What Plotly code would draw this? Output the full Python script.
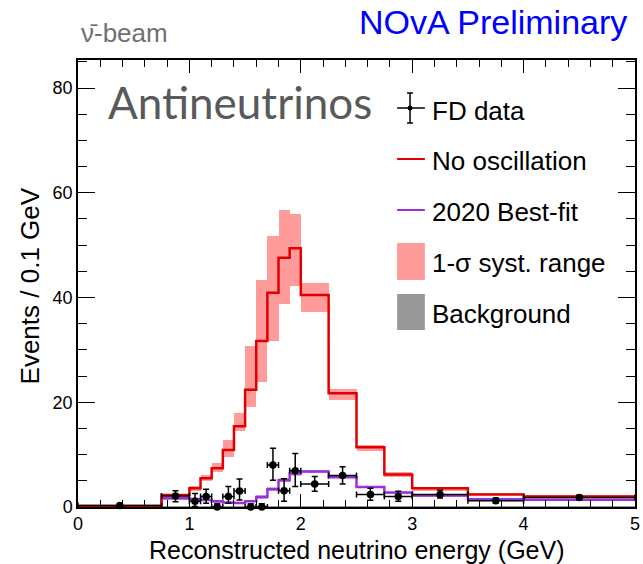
import plotly.graph_objects as go

# ---------------- data ----------------
bin_edges = [0.0, 0.75, 1.0, 1.1, 1.2, 1.3, 1.4, 1.5, 1.6, 1.7, 1.8, 1.9, 2.0,
             2.25, 2.5, 2.75, 3.0, 3.5, 4.0, 5.0]

no_osc = [0.2, 2.3, 3.6, 5.5, 7.4, 10.9, 15.4, 22.4, 31.7, 40.9, 47.6, 49.4,
          40.5, 21.7, 11.4, 6.2, 3.6, 2.4, 2.0]
syst_lo = [0.1, 2.1, 3.05, 5.0, 6.6, 9.5, 14.6, 19.0, 23.9, 31.7, 38.7, 42.2,
           37.3, 20.5, 10.6, 5.8, 3.1, 2.2, 1.85]
syst_hi = [0.3, 2.5, 4.0, 6.1, 8.4, 12.8, 18.0, 30.8, 43.4, 51.8, 56.7, 56.0,
           42.8, 22.6, 11.8, 6.7, 3.9, 2.6, 2.2]

best_fit = [0.15, 1.65, 1.55, 1.35, 1.1, 0.85, 0.75, 1.1, 1.9, 3.4, 5.1, 6.4,
            6.8, 5.7, 3.8, 2.75, 2.2, 1.5, 1.4]
best_lo = [0.1, 1.5, 1.4, 1.2, 0.95, 0.7, 0.6, 0.9, 1.6, 3.0, 4.7, 6.0,
           6.5, 5.45, 3.6, 2.6, 2.05, 1.4, 1.3]
best_hi = [0.2, 1.8, 1.7, 1.5, 1.25, 1.0, 0.9, 1.3, 2.2, 3.8, 5.5, 6.8,
           7.1, 5.95, 4.0, 2.9, 2.35, 1.6, 1.5]

background = [0.05, 0.15, 0.15, 0.15, 0.15, 0.15, 0.15, 0.15, 0.15, 0.15, 0.15,
              0.15, 0.15, 0.15, 0.15, 0.15, 0.15, 0.12, 0.12]

data_x = [0.375, 0.875, 1.05, 1.15, 1.25, 1.35, 1.45, 1.55, 1.65, 1.75, 1.85,
          1.95, 2.125, 2.375, 2.625, 2.875, 3.25, 3.75, 4.5]
data_y = [0.27, 2.1, 1.1, 2.0, 0.0, 2.0, 3.05, 0.0, 0.0, 8.0, 3.1, 6.9, 4.4,
          6.0, 2.4, 2.0, 2.4, 1.2, 1.8]
data_xerr = [0.375, 0.125, 0.05, 0.05, 0.05, 0.05, 0.05, 0.05, 0.05, 0.05, 0.05,
             0.05, 0.125, 0.125, 0.125, 0.125, 0.25, 0.25, 0.5]
data_err_up = [0.2, 1.0, 1.5, 1.4, 0.6, 1.9, 2.3, 0.6, 0.6, 3.2, 2.3, 3.3, 1.4,
               1.7, 1.2, 1.0, 0.8, 0.5, 0.45]
data_err_dn = [0.15, 1.1, 1.0, 1.3, 0.0, 1.3, 1.7, 0.0, 0.0, 2.9, 2.0, 3.0, 1.4,
               1.6, 1.1, 0.9, 0.7, 0.45, 0.4]

x_range = [0, 5]
y_range = [0, 85.35]

# ---------------- helpers ----------------
centers = [(a + b) / 2 for a, b in zip(bin_edges[:-1], bin_edges[1:])]
widths = [b - a for a, b in zip(bin_edges[:-1], bin_edges[1:])]


def steps(vals):
    return list(bin_edges), list(vals) + [vals[-1]]


RED = "#e00000"
PURPLE = "#9b30d8"
PINK = "#ff9b9b"
LPURPLE = "#d7a6f0"
GRAY = "#999999"

fig = go.Figure()

fig.add_trace(go.Bar(x=centers, y=[h - l for h, l in zip(syst_hi, syst_lo)],
                     base=syst_lo, width=widths,
                     marker=dict(color=PINK, line=dict(width=0)),
                     showlegend=False, hoverinfo="skip"))
fig.add_trace(go.Bar(x=centers, y=[h - l for h, l in zip(best_hi, best_lo)],
                     base=best_lo, width=widths,
                     marker=dict(color=LPURPLE, line=dict(width=0)),
                     showlegend=False, hoverinfo="skip"))
fig.add_trace(go.Bar(x=centers, y=background, width=widths,
                     marker=dict(color=GRAY, line=dict(width=0)),
                     showlegend=False, hoverinfo="skip"))

sx, sy = steps(best_fit)
fig.add_trace(go.Scatter(x=sx, y=sy, mode="lines", line_shape="hv",
                         line=dict(color=PURPLE, width=2.5), showlegend=False))
sx, sy = steps(no_osc)
fig.add_trace(go.Scatter(x=sx, y=sy, mode="lines", line_shape="hv",
                         line=dict(color=RED, width=2.5), showlegend=False))

fig.add_trace(go.Scatter(
    x=data_x, y=data_y, mode="markers",
    marker=dict(color="black", size=7.5),
    error_x=dict(type="data", array=data_xerr, color="black", thickness=1.5, width=3),
    error_y=dict(type="data", symmetric=False, array=data_err_up,
                 arrayminus=data_err_dn, color="black", thickness=1.5, width=3),
    cliponaxis=False, showlegend=False))

# ---------------- layout ----------------
W, H = 643, 564
L, R, T, B = 78, 3, 60, 57


def px(x):
    return (x - L) / (W - L - R)


def py(y):
    return (H - B - y) / (H - T - B)


FONT = "Liberation Sans, Arial, sans-serif"

shapes = []
annotations = []

# legend: FD data
shapes.append(dict(type="line", xref="paper", yref="paper", x0=px(400), x1=px(428),
                   y0=py(108), y1=py(108), line=dict(color="black", width=1.5)))
shapes.append(dict(type="line", xref="paper", yref="paper", x0=px(413), x1=px(413),
                   y0=py(93), y1=py(123), line=dict(color="black", width=1.5)))
shapes.append(dict(type="line", xref="paper", yref="paper", x0=px(410), x1=px(416),
                   y0=py(93), y1=py(93), line=dict(color="black", width=1.5)))
shapes.append(dict(type="line", xref="paper", yref="paper", x0=px(410), x1=px(416),
                   y0=py(123), y1=py(123), line=dict(color="black", width=1.5)))
shapes.append(dict(type="circle", xref="paper", yref="paper", x0=px(410.5), x1=px(415.5),
                   y0=py(105.5), y1=py(110.5), fillcolor="black", line=dict(width=0)))
shapes.append(dict(type="line", xref="paper", yref="paper", x0=px(400), x1=px(428),
                   y0=py(159), y1=py(159), line=dict(color=RED, width=2)))
shapes.append(dict(type="line", xref="paper", yref="paper", x0=px(400), x1=px(428),
                   y0=py(210), y1=py(210), line=dict(color=PURPLE, width=2)))
shapes.append(dict(type="rect", xref="paper", yref="paper", x0=px(400), x1=px(428),
                   y0=py(280), y1=py(243), fillcolor=PINK, line=dict(width=0)))
shapes.append(dict(type="rect", xref="paper", yref="paper", x0=px(400), x1=px(428),
                   y0=py(330), y1=py(294), fillcolor=GRAY, line=dict(width=0)))

leg_texts = [("FD data", 111), ("No oscillation", 161), ("2020 Best-fit", 212),
             ("1-σ syst. range", 263), ("Background", 314)]
for txt, yc in leg_texts:
    annotations.append(dict(text=txt, xref="paper", yref="paper", x=px(433), y=py(yc),
                            xanchor="left", yanchor="middle", showarrow=False,
                            font=dict(family=FONT, size=26, color="black")))

annotations.append(dict(text="Antineutrinos", xref="paper", yref="paper",
                        x=px(106), y=py(102), xanchor="left", yanchor="middle",
                        showarrow=False,
                        font=dict(family="Lato, Open Sans, sans-serif", size=44,
                                  color="#595959")))
annotations.append(dict(text="NOvA Preliminary", xref="paper", yref="paper",
                        x=px(634), y=py(22), xanchor="right", yanchor="middle",
                        showarrow=False,
                        font=dict(family=FONT, size=34, color="#0000ff")))
annotations.append(dict(text="\u03bd\u0304-beam", xref="paper", yref="paper",
                        x=px(79), y=py(33), xanchor="left", yanchor="middle",
                        showarrow=False,
                        font=dict(family=FONT, size=26, color="#707070")))
annotations.append(dict(text="Reconstructed neutrino energy (GeV)", xref="paper",
                        yref="paper", x=px(360), y=0, yshift=-(H - 564) - 1,
                        xanchor="center", yanchor="top", showarrow=False,
                        font=dict(family=FONT, size=26, color="black"))
                   if False else
                   dict(text="Reconstructed neutrino energy (GeV)", xref="paper",
                        yref="paper", x=px(360), y=py(550), xanchor="center",
                        yanchor="middle", showarrow=False,
                        font=dict(family=FONT, size=25, color="black")))
annotations.append(dict(text="Events / 0.1 GeV", xref="paper", yref="paper",
                        x=px(30), y=py(286), xanchor="center", yanchor="middle",
                        textangle=-90, showarrow=False,
                        font=dict(family=FONT, size=26, color="black")))

axis_common = dict(showline=True, linecolor="black", linewidth=1.5, mirror="allticks",
                   ticks="inside", tickcolor="black", tickwidth=1, showgrid=False,
                   zeroline=False, ticklabeloverflow="allow",
                   tickfont=dict(family=FONT, size=18, color="black"))

fig.update_layout(
    width=W, height=H,
    margin=dict(l=L, r=R, t=T, b=B),
    paper_bgcolor="white", plot_bgcolor="white",
    barmode="overlay", bargap=0,
    showlegend=False,
    xaxis=dict(range=x_range, tick0=0, dtick=1, ticklen=13, ticklabelstandoff=0,
               minor=dict(dtick=0.2, ticklen=7, ticks="inside", tickcolor="black"),
               **axis_common),
    yaxis=dict(range=y_range, tick0=0, dtick=20, ticklen=17,
               minor=dict(dtick=5, ticklen=9, ticks="inside", tickcolor="black"),
               **axis_common),
    shapes=shapes, annotations=annotations,
)

fig.write_html("out.html")
